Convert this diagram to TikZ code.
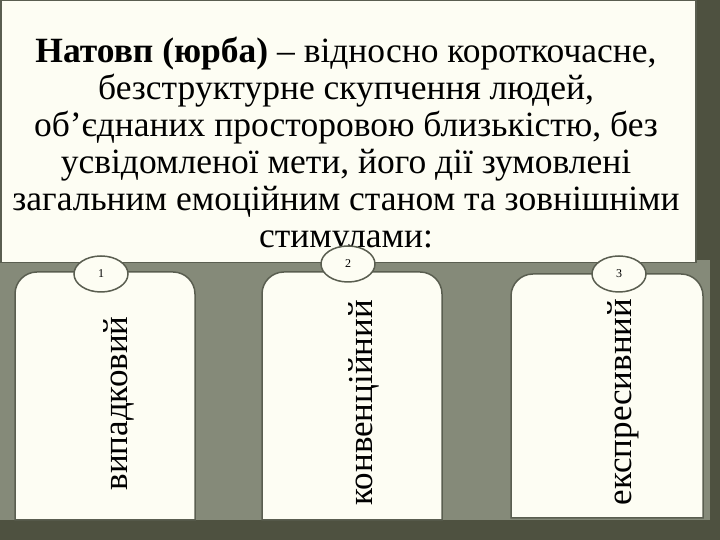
\documentclass[tikz,border=0pt]{standalone}
\usepackage{fontspec}
\setmainfont{Liberation Serif}
\usetikzlibrary{shapes.geometric}
\definecolor{bgdark}{HTML}{4E5140}
\definecolor{panel}{HTML}{858A79}
\definecolor{cream}{HTML}{FDFDF3}
\definecolor{edge}{HTML}{5A5E50}
\begin{document}
\begin{tikzpicture}[x=1pt,y=1pt,
  col/.style={fill=cream,draw=edge,line width=1.5pt,rounded corners=22pt},
  num/.style={ellipse,draw=edge,fill=cream,line width=1.5pt,minimum width=54pt,minimum height=36pt,inner sep=0pt,font=\fontsize{12}{12}\selectfont},
  vlab/.style={rotate=90,anchor=west,font=\fontsize{35}{35}\selectfont}]
\fill[bgdark] (0,0) rectangle (720,540);
\fill[panel] (0,20) rectangle (710,280);
\draw[col] (15,20) -- (15,268) -- (195,268) [sharp corners] -- (195,20) -- cycle;
\draw[col] (262,20) -- (262,268) -- (442,268) [sharp corners] -- (442,20) -- cycle;
\draw[col] (511,22) -- (511,266) -- (703,266) [sharp corners] -- (703,22) -- cycle;
\node[draw=edge,fill=cream,line width=1.5pt,minimum width=695pt,minimum height=262pt,anchor=north west,inner sep=0pt] (top) at (0,540) {};
\node[align=center,font=\fontsize{35.5}{37}\selectfont] (title) at (346,394) {\textbf{Натовп (юрба)} – відносно короткочасне,\\безструктурне скупчення людей,\\об'єднаних просторовою близькістю, без\\усвідомленої мети, його дії зумовлені\\загальним емоційним станом та зовнішніми\\стимулами:};
\node[num] (n1) at (101,266) {1};
\node[num] (n2) at (348,276) {2};
\node[num] (n3) at (619,266) {3};
\node[vlab] (t1) at (119,46) {випадковий};
\node[vlab] (t2) at (364,31) {конвенційний};
\node[vlab] (t3) at (623,31) {експресивний};
\end{tikzpicture}
\end{document}
